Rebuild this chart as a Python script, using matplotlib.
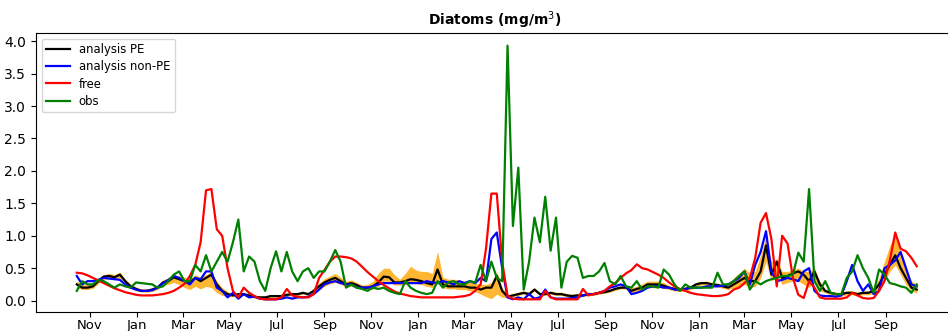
import matplotlib
matplotlib.use("Agg")
import matplotlib.pyplot as plt
import matplotlib.dates as mdates
import pandas as pd

# weekly dates, mid Oct 2015 to mid Oct 2018
dates = pd.date_range("2015-10-15", periods=157, freq="7D")

# month ticks shown under the axis (every second month)
tick_dates = pd.date_range("2015-11-01", "2018-09-01", freq="2MS")

analysis_pe = [
    0.25, 0.20, 0.20, 0.22, 0.30, 0.37, 0.38, 0.36, 0.40, 0.30,
    0.22, 0.18, 0.15, 0.15, 0.17, 0.20, 0.28, 0.30, 0.36, 0.33,
    0.30, 0.28, 0.35, 0.30, 0.35, 0.40, 0.25, 0.15, 0.10, 0.08,
    0.10, 0.10, 0.08, 0.06, 0.05, 0.05, 0.07, 0.07, 0.07, 0.09,
    0.10, 0.10, 0.12, 0.10, 0.15, 0.22, 0.28, 0.32, 0.35, 0.30,
    0.25, 0.27, 0.24, 0.20, 0.20, 0.22, 0.28, 0.37, 0.36, 0.28,
    0.28, 0.30, 0.33, 0.32, 0.30, 0.27, 0.25, 0.48, 0.25, 0.22,
    0.22, 0.22, 0.22, 0.20, 0.20, 0.17, 0.20, 0.20, 0.38, 0.15,
    0.06, 0.08, 0.10, 0.12, 0.10, 0.17, 0.10, 0.10, 0.12, 0.10,
    0.10, 0.08, 0.07, 0.08, 0.08, 0.10, 0.10, 0.12, 0.13, 0.15,
    0.18, 0.20, 0.20, 0.15, 0.18, 0.20, 0.25, 0.25, 0.25, 0.23,
    0.20, 0.18, 0.17, 0.18, 0.20, 0.25, 0.27, 0.27, 0.25, 0.24,
    0.22, 0.20, 0.25, 0.30, 0.35, 0.30, 0.30, 0.45, 0.85, 0.40,
    0.60, 0.35, 0.38, 0.42, 0.45, 0.40, 0.30, 0.45, 0.25, 0.15,
    0.12, 0.10, 0.10, 0.12, 0.12, 0.10, 0.12, 0.12, 0.15, 0.25,
    0.40, 0.55, 0.70, 0.50, 0.35, 0.20, 0.17,
]

analysis_non_pe = [
    0.38, 0.25, 0.30, 0.30, 0.32, 0.35, 0.34, 0.33, 0.32, 0.25,
    0.20, 0.17, 0.15, 0.15, 0.16, 0.20, 0.27, 0.32, 0.38, 0.35,
    0.30, 0.25, 0.35, 0.33, 0.45, 0.45, 0.20, 0.15, 0.05, 0.12,
    0.03, 0.10, 0.05, 0.06, 0.03, 0.02, 0.02, 0.02, 0.03, 0.05,
    0.03, 0.05, 0.05, 0.06, 0.10, 0.17, 0.25, 0.28, 0.30, 0.27,
    0.25, 0.25, 0.20, 0.20, 0.20, 0.22, 0.25, 0.27, 0.27, 0.27,
    0.27, 0.27, 0.27, 0.27, 0.27, 0.30, 0.28, 0.27, 0.30, 0.28,
    0.25, 0.30, 0.27, 0.30, 0.27, 0.35, 0.30, 0.95, 1.05, 0.50,
    0.05, 0.02, 0.05, 0.02, 0.10, 0.03, 0.05, 0.17, 0.05, 0.03,
    0.03, 0.03, 0.04, 0.05, 0.08, 0.10, 0.10, 0.12, 0.15, 0.20,
    0.22, 0.25, 0.22, 0.10, 0.12, 0.15, 0.20, 0.22, 0.22, 0.20,
    0.20, 0.17, 0.17, 0.18, 0.20, 0.20, 0.20, 0.22, 0.22, 0.22,
    0.23, 0.25, 0.30, 0.35, 0.45, 0.25, 0.55, 0.75, 1.07, 0.45,
    0.30, 0.32, 0.35, 0.33, 0.30, 0.45, 0.50, 0.15, 0.08, 0.07,
    0.07, 0.06, 0.08, 0.30, 0.55, 0.30, 0.15, 0.25, 0.10, 0.15,
    0.50, 0.55, 0.62, 0.75, 0.50, 0.25, 0.22,
]

free = [
    0.43, 0.42, 0.39, 0.35, 0.31, 0.27, 0.23, 0.19, 0.16, 0.13,
    0.11, 0.09, 0.08, 0.08, 0.08, 0.09, 0.10, 0.12, 0.15, 0.20,
    0.26, 0.38, 0.55, 0.90, 1.70, 1.72, 1.10, 1.00, 0.50, 0.15,
    0.05, 0.20, 0.12, 0.07, 0.03, 0.02, 0.02, 0.02, 0.05, 0.18,
    0.08, 0.06, 0.05, 0.05, 0.10, 0.35, 0.47, 0.60, 0.68, 0.68,
    0.67, 0.65, 0.60, 0.52, 0.44, 0.37, 0.30, 0.24, 0.19, 0.14,
    0.11, 0.09, 0.07, 0.06, 0.05, 0.05, 0.05, 0.05, 0.05, 0.05,
    0.05, 0.06, 0.07, 0.09, 0.15, 0.25, 0.80, 1.65, 1.65, 0.60,
    0.07, 0.03, 0.02, 0.02, 0.02, 0.02, 0.02, 0.15, 0.05, 0.02,
    0.02, 0.02, 0.02, 0.02, 0.18, 0.08, 0.10, 0.12, 0.15, 0.22,
    0.27, 0.35, 0.42, 0.47, 0.56, 0.50, 0.48, 0.44, 0.40, 0.35,
    0.28, 0.22, 0.18, 0.15, 0.12, 0.10, 0.09, 0.08, 0.07, 0.07,
    0.08, 0.10, 0.17, 0.20, 0.27, 0.35, 0.66, 1.20, 1.35, 0.95,
    0.22, 1.00, 0.88, 0.35, 0.09, 0.04, 0.30, 0.20, 0.05, 0.03,
    0.03, 0.03, 0.03, 0.05, 0.12, 0.08, 0.04, 0.03, 0.04, 0.15,
    0.30, 0.62, 1.05, 0.80, 0.76, 0.66, 0.53,
]

obs = [
    0.15, 0.30, 0.25, 0.25, 0.32, 0.30, 0.25, 0.20, 0.25, 0.22,
    0.20, 0.28, 0.27, 0.26, 0.25, 0.20, 0.22, 0.30, 0.40, 0.45,
    0.30, 0.30, 0.55, 0.45, 0.70, 0.45, 0.60, 0.75, 0.60, 0.90,
    1.25, 0.45, 0.68, 0.60, 0.30, 0.15, 0.50, 0.76, 0.45, 0.75,
    0.45, 0.30, 0.45, 0.50, 0.35, 0.45, 0.45, 0.60, 0.78, 0.60,
    0.20, 0.25, 0.20, 0.18, 0.15, 0.20, 0.18, 0.20, 0.15, 0.12,
    0.10, 0.30, 0.20, 0.15, 0.12, 0.10, 0.12, 0.30, 0.20, 0.28,
    0.30, 0.25, 0.25, 0.30, 0.28, 0.55, 0.30, 0.60, 0.35, 0.30,
    3.93, 1.15, 2.05, 0.17, 0.60, 1.28, 0.90, 1.60, 0.77, 1.28,
    0.20, 0.60, 0.69, 0.66, 0.35, 0.38, 0.38, 0.45, 0.58, 0.30,
    0.25, 0.38, 0.22, 0.20, 0.30, 0.17, 0.22, 0.22, 0.20, 0.48,
    0.40, 0.25, 0.15, 0.25, 0.20, 0.20, 0.20, 0.20, 0.20, 0.43,
    0.25, 0.25, 0.30, 0.38, 0.45, 0.17, 0.30, 0.25, 0.30, 0.33,
    0.35, 0.38, 0.38, 0.40, 0.74, 0.60, 1.72, 0.30, 0.15, 0.30,
    0.12, 0.10, 0.10, 0.35, 0.45, 0.70, 0.50, 0.35, 0.12, 0.48,
    0.40, 0.27, 0.25, 0.22, 0.20, 0.12, 0.25,
]

# ensemble spread of the PE analysis
spread_low = [
    0.20, 0.17, 0.17, 0.19, 0.26, 0.33, 0.34, 0.33, 0.35, 0.27,
    0.19, 0.15, 0.13, 0.13, 0.14, 0.17, 0.24, 0.25, 0.28, 0.25,
    0.20, 0.17, 0.22, 0.18, 0.22, 0.20, 0.12, 0.08, 0.06, 0.06,
    0.08, 0.08, 0.06, 0.04, 0.03, 0.03, 0.05, 0.05, 0.05, 0.07,
    0.08, 0.08, 0.10, 0.08, 0.10, 0.17, 0.22, 0.26, 0.28, 0.25,
    0.21, 0.22, 0.20, 0.17, 0.17, 0.18, 0.22, 0.30, 0.30, 0.24,
    0.24, 0.25, 0.27, 0.26, 0.25, 0.22, 0.20, 0.30, 0.20, 0.18,
    0.18, 0.17, 0.17, 0.15, 0.14, 0.10, 0.06, 0.03, 0.10, 0.05,
    0.04, 0.06, 0.08, 0.10, 0.08, 0.15, 0.08, 0.08, 0.10, 0.08,
    0.08, 0.06, 0.05, 0.06, 0.06, 0.08, 0.08, 0.10, 0.11, 0.13,
    0.16, 0.18, 0.18, 0.12, 0.14, 0.16, 0.20, 0.20, 0.20, 0.19,
    0.17, 0.15, 0.14, 0.15, 0.17, 0.22, 0.24, 0.24, 0.22, 0.21,
    0.19, 0.17, 0.20, 0.22, 0.25, 0.20, 0.22, 0.35, 0.60, 0.30,
    0.40, 0.25, 0.28, 0.30, 0.30, 0.25, 0.20, 0.30, 0.15, 0.12,
    0.09, 0.07, 0.07, 0.09, 0.09, 0.07, 0.09, 0.09, 0.11, 0.18,
    0.30, 0.45, 0.55, 0.40, 0.25, 0.15, 0.12,
]

spread_high = [
    0.30, 0.25, 0.24, 0.27, 0.34, 0.40, 0.42, 0.40, 0.44, 0.33,
    0.25, 0.21, 0.18, 0.18, 0.20, 0.24, 0.32, 0.35, 0.40, 0.38,
    0.36, 0.33, 0.40, 0.36, 0.40, 0.45, 0.30, 0.20, 0.14, 0.10,
    0.12, 0.12, 0.10, 0.08, 0.07, 0.07, 0.09, 0.09, 0.09, 0.11,
    0.12, 0.12, 0.14, 0.12, 0.20, 0.27, 0.34, 0.38, 0.42, 0.36,
    0.30, 0.32, 0.28, 0.24, 0.25, 0.30, 0.42, 0.50, 0.50, 0.40,
    0.33, 0.42, 0.53, 0.47, 0.45, 0.45, 0.42, 0.76, 0.36, 0.33,
    0.33, 0.32, 0.30, 0.28, 0.27, 0.25, 0.25, 0.28, 0.45, 0.20,
    0.09, 0.11, 0.13, 0.15, 0.13, 0.20, 0.13, 0.13, 0.15, 0.13,
    0.13, 0.11, 0.10, 0.11, 0.11, 0.13, 0.13, 0.15, 0.16, 0.18,
    0.21, 0.23, 0.23, 0.20, 0.22, 0.26, 0.30, 0.30, 0.30, 0.28,
    0.23, 0.21, 0.20, 0.21, 0.23, 0.28, 0.30, 0.30, 0.28, 0.27,
    0.25, 0.24, 0.35, 0.42, 0.50, 0.42, 0.45, 0.70, 1.00, 0.60,
    0.65, 0.45, 0.45, 0.48, 0.50, 0.45, 0.45, 0.50, 0.30, 0.18,
    0.15, 0.13, 0.13, 0.15, 0.15, 0.13, 0.15, 0.15, 0.19, 0.35,
    0.60, 0.85, 1.00, 0.75, 0.50, 0.30, 0.25,
]


def main():
    fig = plt.figure(figsize=(9.48, 3.31), dpi=100)
    ax = fig.add_axes([0.038, 0.0574, 0.968, 0.8429])

    ax.fill_between(dates, spread_low, spread_high, color="orange", alpha=0.8, linewidth=0)
    ax.plot(dates, analysis_pe, color="k", lw=1.6, label="analysis PE")
    ax.plot(dates, analysis_non_pe, color="b", lw=1.6, label="analysis non-PE")
    ax.plot(dates, free, color="#ff0000", lw=1.6, label="free")
    ax.plot(dates, obs, color="g", lw=1.6, label="obs")

    ax.set_xlim(pd.Timestamp("2015-08-23"), pd.Timestamp("2018-11-28"))
    ax.set_xticks(tick_dates)
    ax.xaxis.set_major_formatter(mdates.DateFormatter("%b"))
    ax.tick_params(labelsize=10)
    ax.tick_params(axis="x", pad=1.5, labelsize=9.5)

    ax.set_title("Diatoms (mg/m$^3$)", fontsize=10, fontweight="bold")
    ax.legend(loc="upper left", fontsize="small", labelspacing=0.35)

    fig.savefig("out.png", dpi=100)


if __name__ == "__main__":
    main()
